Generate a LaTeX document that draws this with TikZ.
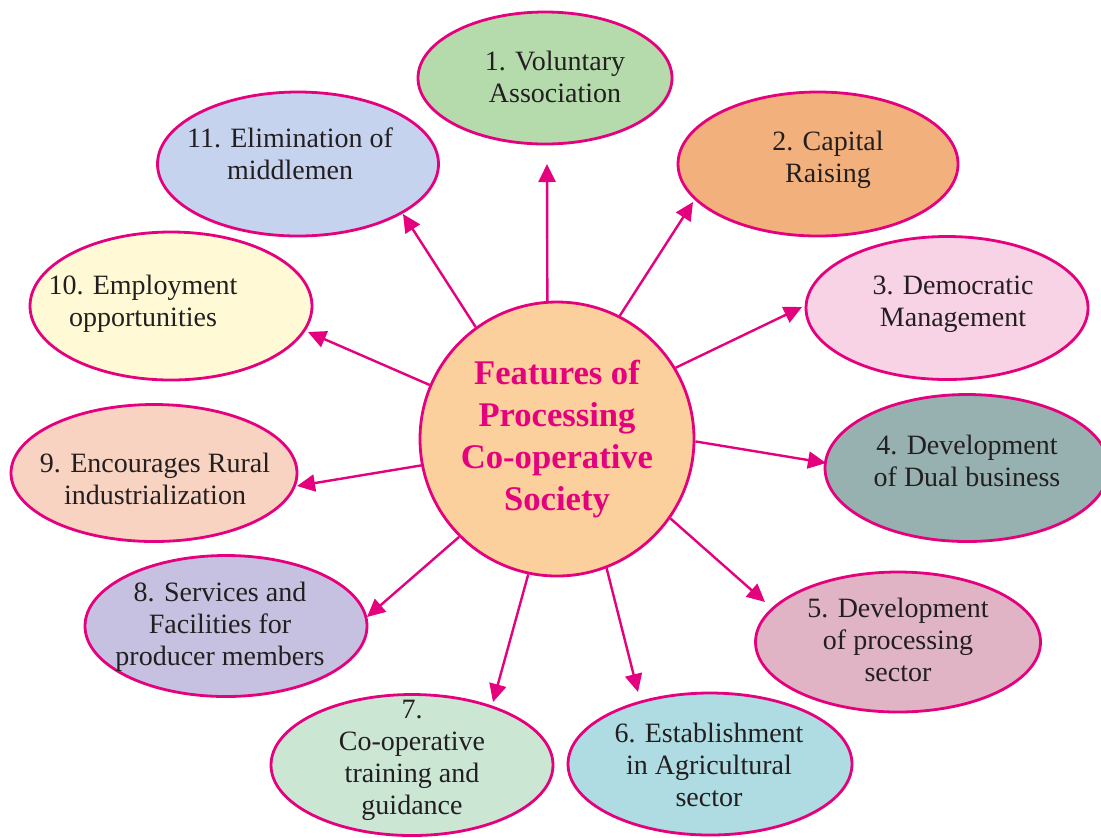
\documentclass[tikz,border=0pt]{standalone}
\usepackage{fontspec}
\setmainfont{Liberation Serif}
\usetikzlibrary{shapes.geometric,arrows.meta}
\definecolor{mag}{RGB}{229,0,126}
\definecolor{ink}{RGB}{35,31,32}
\definecolor{cHub}{RGB}{251,208,156}
\definecolor{cA}{RGB}{181,219,172}
\definecolor{cB}{RGB}{242,177,124}
\definecolor{cC}{RGB}{248,211,230}
\definecolor{cD}{RGB}{150,177,176}
\definecolor{cE}{RGB}{224,180,196}
\definecolor{cF}{RGB}{174,220,226}
\definecolor{cG}{RGB}{204,230,212}
\definecolor{cH}{RGB}{198,193,224}
\definecolor{cI}{RGB}{249,211,193}
\definecolor{cJ}{RGB}{255,250,213}
\definecolor{cK}{RGB}{197,211,238}
\begin{document}
\begin{tikzpicture}[x=0.5pt,y=-0.5pt,
	feat/.style={ellipse, draw=mag, line width=1.4pt, inner sep=0pt},
	txt/.style={align=center, text=ink, font=\fontsize{14}{16}\selectfont, inner sep=0pt},
	arr/.style={draw=mag, line width=1.2pt, -{Triangle[length=9pt,width=8.5pt]}}]

	\useasboundingbox (0,0) rectangle (1101,837);
	\begin{scope}
	\clip (0,0) rectangle (1101,837);

	\node[feat, fill=cA, minimum width=127pt, minimum height=66pt] (e1) at (545,78) {};
	\node[feat, fill=cB, minimum width=140pt, minimum height=72pt] (e2) at (818,164) {};
	\node[feat, fill=cC, minimum width=141pt, minimum height=71.5pt] (e3) at (947,308) {};
	\node[feat, fill=cD, minimum width=142pt, minimum height=73.5pt] (e4) at (967,468) {};
	\node[feat, fill=cE, minimum width=142.5pt, minimum height=70pt] (e5) at (898,642) {};
	\node[feat, fill=cF, minimum width=142pt, minimum height=71pt] (e6) at (710,764) {};
	\node[feat, fill=cG, minimum width=141pt, minimum height=70.5pt] (e7) at (412,765) {};
	\node[feat, fill=cH, minimum width=141pt, minimum height=70.5pt] (e8) at (226,626) {};
	\node[feat, fill=cI, minimum width=143pt, minimum height=68.5pt] (e9) at (154,473) {};
	\node[feat, fill=cJ, minimum width=141pt, minimum height=74pt] (e10) at (171,306) {};
	\node[feat, fill=cK, minimum width=140.5pt, minimum height=72pt] (e11) at (298,164) {};

	\node[txt] (l1) at (555,77) {1. Voluntary\\Association};
	\node[txt] (l2) at (828,160) {2. Capital\\Raising};
	\node[txt] (l3) at (953,304) {3. Democratic\\Management};
	\node[txt] (l4) at (967,461) {4. Development\\of Dual business};
	\node[txt] (l5) at (898,640) {5. Development\\of processing\\sector};
	\node[txt] (l6) at (709,765) {6. Establishment\\in Agricultural\\sector};
	\node[txt] (l7) at (412,760) {7.\\Co-operative\\training and\\guidance};
	\node[txt] (l8) at (220,627) {8. Services and\\Facilities for\\producer members};
	\node[txt] (l9) at (155,479) {9. Encourages Rural\\industrialization};
	\node[txt] (l10) at (143,304) {10. Employment\\opportunities};
	\node[txt] (l11) at (290,154) {11. Elimination of\\middlemen};

	\node[circle, draw=mag, line width=1.4pt, fill=cHub, minimum size=137pt, inner sep=0pt,
		align=center, text=mag, font=\bfseries\fontsize{17.3}{21}\selectfont] (hub) at (557,439)
		{Features of\\Processing\\Co-operative\\Society};

	\coordinate (t1) at (547,164);
	\coordinate (t2) at (693,202);
	\coordinate (t3) at (802,307);
	\coordinate (t4) at (826,463);
	\coordinate (t5) at (765,602);
	\coordinate (t6) at (638,692);
	\coordinate (t7) at (493,702);
	\coordinate (t8) at (367,617);
	\coordinate (t9) at (297,486);
	\coordinate (t10) at (308,332);
	\coordinate (t11) at (403,214);

	\draw[arr] (hub.94) -- (t1);
	\draw[arr] (hub.63.4) -- (t2);
	\draw[arr] (hub.31.4) -- (t3);
	\draw[arr] (hub.-1.3) -- (t4);
	\draw[arr] (hub.-35) -- (t5);
	\draw[arr] (hub.-69) -- (t6);
	\draw[arr] (hub.-102.7) -- (t7);
	\draw[arr] (hub.-135.3) -- (t8);
	\draw[arr] (hub.191.6) -- (t9);
	\draw[arr] (hub.157.7) -- (t10);
	\draw[arr] (hub.126.6) -- (t11);
	\end{scope}
\end{tikzpicture}
\end{document}
